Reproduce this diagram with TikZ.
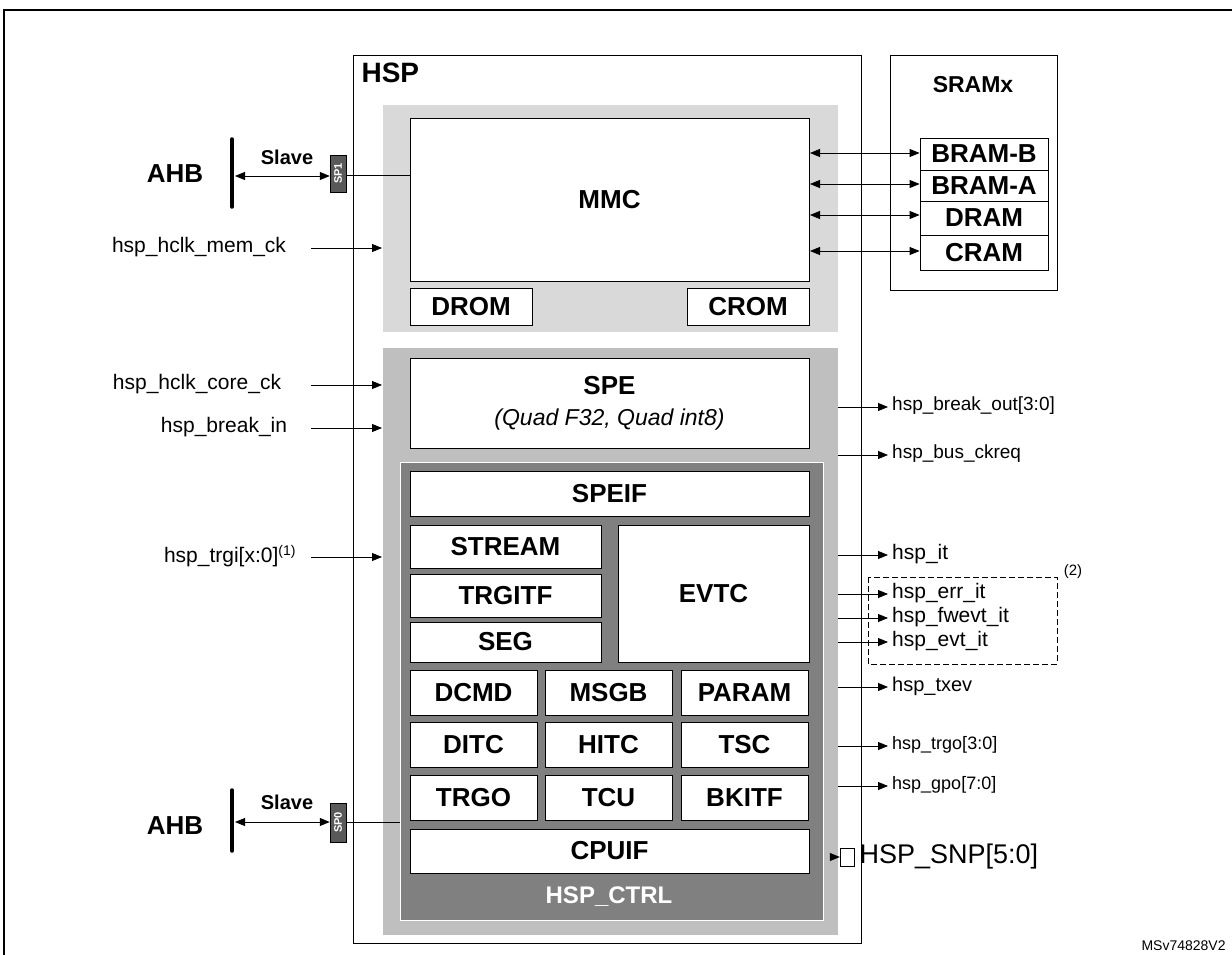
\documentclass[tikz,border=0pt]{standalone}
\usepackage{fontspec}
\setmainfont{Liberation Sans}
\usetikzlibrary{arrows.meta}
\begin{document}
\begin{tikzpicture}[x=1pt,y=-1pt,
 blk/.style={draw=black,fill=white,line width=0.8pt},
 lbl/.style={font=\fontsize{26}{28}\selectfont\bfseries},
 sig/.style={font=\fontsize{21}{23}\selectfont},
 arr/.style={-{Triangle[length=10pt,width=8pt]},line width=0.8pt},
 darr/.style={{Triangle[length=10pt,width=8pt]}-{Triangle[length=10pt,width=8pt]},line width=0.8pt},
 port/.style={draw=black,fill=gray!70!black,line width=0.5pt}]
\useasboundingbox (0,0) rectangle (1232,955);
\fill[white] (0,0) rectangle (1232,955);
\draw[line width=1.2pt] (4,955) -- (4,10) -- (1232,10);
% HSP
\draw[line width=0.9pt] (353,55) rectangle (861,943);
\node[anchor=west,font=\fontsize{28}{30}\selectfont\bfseries] (hsp) at (358,73) {HSP};
\fill[gray!30] (383,105) rectangle (838,332);
\fill[gray!50] (383,348) rectangle (838,935);
\path[fill=black!50] (400,462) rectangle (823,920);
\draw[white,line width=1pt] (400,462) rectangle (823,920);
% MMC
\node[blk,lbl,minimum width=399,minimum height=163] (mmc) at (609.5,199.5) {MMC};
\node[blk,lbl,minimum width=122,minimum height=37] (drom) at (471,306.5) {DROM};
\node[blk,lbl,minimum width=122,minimum height=37] (crom) at (748,306.5) {CROM};
\node[blk,minimum width=399,minimum height=90] (spe) at (609.5,403) {};
\node[lbl] (spet) at (609.5,386) {SPE};
\node[font=\fontsize{23}{25}\selectfont\itshape] (spes) at (609.5,420) {(Quad F32, Quad int8)};
\node[blk,lbl,minimum width=399,minimum height=45] (speif) at (609.5,493.5) {SPEIF};
\node[blk,lbl,minimum width=191,minimum height=43] (stream) at (505.5,546.5) {STREAM};
\node[blk,lbl,minimum width=191,minimum height=43] (trgitf) at (505.5,595.5) {TRGITF};
\node[blk,lbl,minimum width=191,minimum height=40] (seg) at (505.5,642) {SEG};
\node[blk,lbl,minimum width=191,minimum height=137] (evtc) at (713.5,593.5) {EVTC};
\foreach \n/\t/\x/\y in {dcmd/DCMD/473.5/692.5,msgb/MSGB/608.5/692.5,param/PARAM/744.5/692.5,
 ditc/DITC/473.5/744.5,hitc/HITC/608.5/744.5,tsc/TSC/744.5/744.5,
 trgo/TRGO/473.5/797.5,tcu/TCU/608.5/797.5,bkitf/BKITF/744.5/797.5}
 \node[blk,lbl,minimum width=127,minimum height=45] (\n) at (\x,\y) {\t};
\node[blk,lbl,minimum width=399,minimum height=44] (cpuif) at (609.5,851) {CPUIF};
\node[font=\fontsize{24}{26}\selectfont\bfseries,text=white] (ctrl) at (609,897) {HSP\_CTRL};
% SRAM
\draw[line width=0.9pt] (890,55) rectangle (1057,290);
\node[font=\fontsize{23}{25}\selectfont\bfseries] (sram) at (973,85) {SRAMx};
\node[blk,lbl,minimum width=128,minimum height=32] (bramb) at (984,154) {BRAM-B};
\node[blk,lbl,minimum width=128,minimum height=31] (brama) at (984,185.5) {BRAM-A};
\node[blk,lbl,minimum width=128,minimum height=34] (dram) at (984,218) {DRAM};
\node[blk,lbl,minimum width=128,minimum height=35] (cram) at (984,252.5) {CRAM};
\foreach \n/\y in {bramb/153,brama/184,dram/215,cram/251}{
 \coordinate (m\n) at (810,\y);
 \draw[darr] (m\n) -- (\n.west |- m\n);}
% AHB top
\node[lbl] (ahb1) at (175,174) {AHB};
\draw[line width=3.5pt,line cap=round] (232,139) -- (232,207);
\node[port,minimum width=16,minimum height=37,inner sep=0] (sp1) at (338,173.5) {};
\node[rotate=90,text=white,font=\fontsize{11}{12}\selectfont\bfseries] at (sp1) {SP1};
\coordinate (a1) at (235,176);
\draw[darr] (a1) -- (sp1.west |- a1);
\node[font=\fontsize{20}{22}\selectfont\bfseries] at (287,157) {Slave};
\draw[line width=0.8pt] (sp1.east |- 0,175) -- (mmc.west |- 0,175);
% AHB bottom
\node[lbl] (ahb0) at (175,826) {AHB};
\draw[line width=3.5pt,line cap=round] (232,790) -- (232,851);
\node[port,minimum width=16,minimum height=39,inner sep=0] (sp0) at (338,822.5) {};
\node[rotate=90,text=white,font=\fontsize{11}{12}\selectfont\bfseries] at (sp0) {SP0};
\coordinate (a0) at (235,822);
\draw[darr] (a0) -- (sp0.west |- a0);
\node[font=\fontsize{20}{22}\selectfont\bfseries] at (287,802) {Slave};
\coordinate (c0) at (400,822);
\draw[line width=0.8pt] (sp0.east |- c0) -- (c0);
% left inputs
\foreach \n/\t/\x/\y in {i1/hsp\_hclk\_mem\_ck/199/247,i2/hsp\_hclk\_core\_ck/197/384,i3/hsp\_break\_in/224/427,i4/{hsp\_trgi[x:0]\textsuperscript{\fontsize{14}{15}\selectfont(1)}}/230/556}{
 \node[sig] (\n) at (\x,\y) {\t};
 \coordinate (\n s) at (311,\y+1);
 \coordinate (\n e) at (382,\y+1);
 \draw[arr] (\n s) -- (\n e);}
% right outputs
\foreach \n/\t/\y/\fs in {o1/hsp\_break\_out[3:0]/407/19,o2/hsp\_bus\_ckreq/455/19,o3/hsp\_it/555/21,o4/hsp\_err\_it/594/21,o5/hsp\_fwevt\_it/618/21,o6/hsp\_evt\_it/642/21,o7/hsp\_txev/687/20,o8/hsp\_trgo[3:0]/746/18,o9/hsp\_gpo[7:0]/786/18}{
 \coordinate (\n s) at (838,\y);
 \coordinate (\n e) at (888,\y);
 \draw[arr] (\n s) -- (\n e);
 \node[anchor=west,inner sep=1pt,font=\fontsize{\fs}{\fs}\selectfont] (\n) at (891,\y-1) {\t};}
\draw[line width=0.8pt,dash pattern=on 6pt off 3pt] (868,577) rectangle (1057,664);
\node[font=\fontsize{15}{16}\selectfont] (n2) at (1073,572) {(2)};
% SNP
\node[draw,fill=white,minimum width=14,minimum height=18,inner sep=0] (snp) at (847,857) {};
\coordinate (snps) at (838,857);
\draw[arr] (snps) -- (snp.west);
\node[anchor=west,font=\fontsize{27}{29}\selectfont] (snpt) at (856,857) {HSP\_SNP[5:0]};
\node[anchor=west,font=\fontsize{14}{15}\selectfont] (ref) at (1138,946) {MSv74828V2};
\end{tikzpicture}
\end{document}
